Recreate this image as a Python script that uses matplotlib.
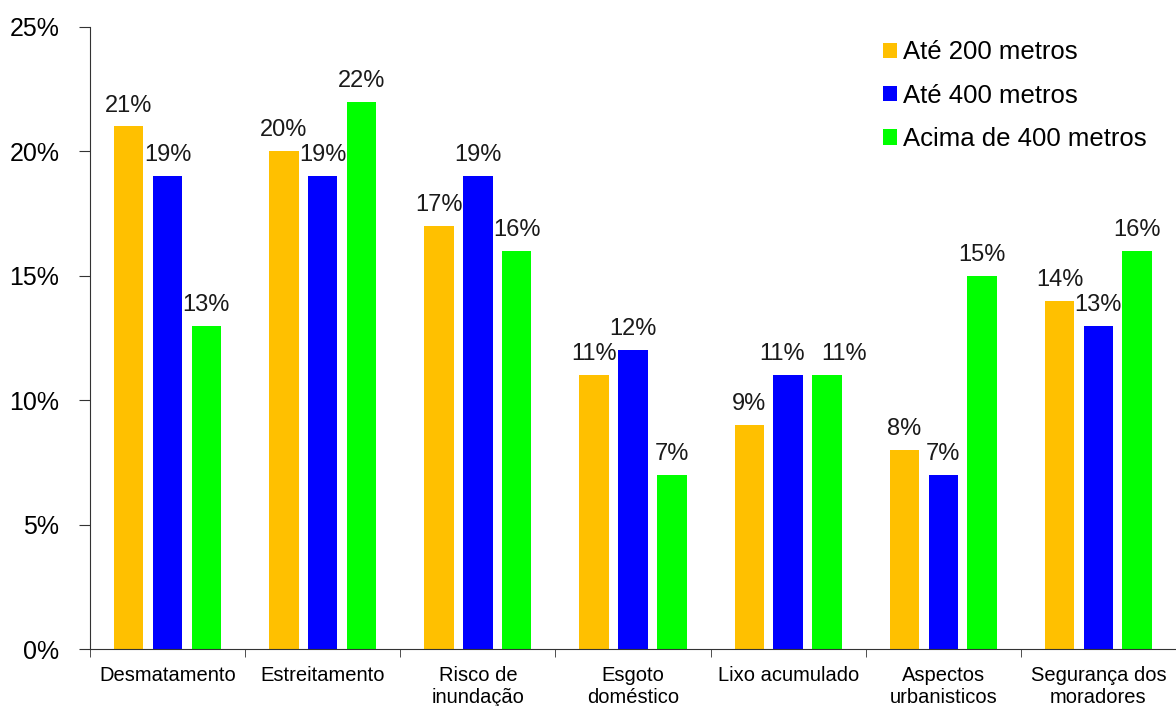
import numpy as np
import matplotlib
import matplotlib.pyplot as plt
from matplotlib.ticker import FixedLocator

matplotlib.use("Agg")

plt.rcParams["font.family"] = ["Liberation Sans", "DejaVu Sans"]

categories = [
    "Desmatamento",
    "Estreitamento",
    "Risco de\ninundação",
    "Esgoto\ndoméstico",
    "Lixo acumulado",
    "Aspectos\nurbanisticos",
    "Segurança dos\nmoradores",
]
ate_200 = [21, 20, 17, 11, 9, 8, 14]
ate_400 = [19, 19, 19, 12, 11, 7, 13]
acima_400 = [13, 22, 16, 7, 11, 15, 16]
series_names = ["Até 200 metros", "Até 400 metros", "Acima de 400 metros"]
colors = ["#FFC000", "#0000FF", "#00FF00"]

# small horizontal nudges for labels that would collide (series index, category index)
label_nudge = {(1, 4): -0.04, (2, 4): 0.11}

fig = plt.figure(figsize=(11.76, 7.06), dpi=100)
ax = fig.add_axes([0.0765, 0.0807, 0.9235, 0.8811])

x = np.arange(len(categories))
offsets = [-0.25, 0.0, 0.25]
width = 0.19

for s, (vals, off, col, name) in enumerate(zip([ate_200, ate_400, acima_400], offsets, colors, series_names)):
    bars = ax.bar(x + off, vals, width=width, color=col, label=name, zorder=2)
    for i, (b, v) in enumerate(zip(bars, vals)):
        dx = label_nudge.get((s, i), 0.0)
        ax.text(b.get_x() + b.get_width() / 2 + dx, v + 0.4, f"{v}%",
                ha="center", va="bottom", fontsize=17, color="#1a1a1a")

ax.set_xlim(-0.5, len(categories) - 0.5)
ax.set_ylim(0, 25)
ax.set_yticks([0, 5, 10, 15, 20, 25])
ax.set_yticklabels([f"{t}%" for t in [0, 5, 10, 15, 20, 25]], fontsize=18)

ax.set_xticks(x)
ax.set_xticklabels(categories, fontsize=14.5, linespacing=1.25)
ax.tick_params(axis="x", length=0, pad=12)
ax.xaxis.set_minor_locator(FixedLocator(np.arange(-0.5, len(categories) - 0.4, 1.0)))
ax.tick_params(axis="x", which="minor", length=6, direction="out", color="#333333")
ax.tick_params(axis="y", length=8, direction="out", pad=14, color="#333333")

for side in ["top", "right"]:
    ax.spines[side].set_visible(False)
ax.spines["left"].set_color("#333333")
ax.spines["bottom"].set_color("#333333")

ax.legend(loc="upper right", bbox_to_anchor=(0.9825, 0.995), frameon=False, fontsize=18.5,
          handlelength=0.55, handleheight=0.55, handletextpad=0.25, labelspacing=0.75,
          borderaxespad=0.0)

fig.savefig("out.png", dpi=100)
plt.close(fig)
